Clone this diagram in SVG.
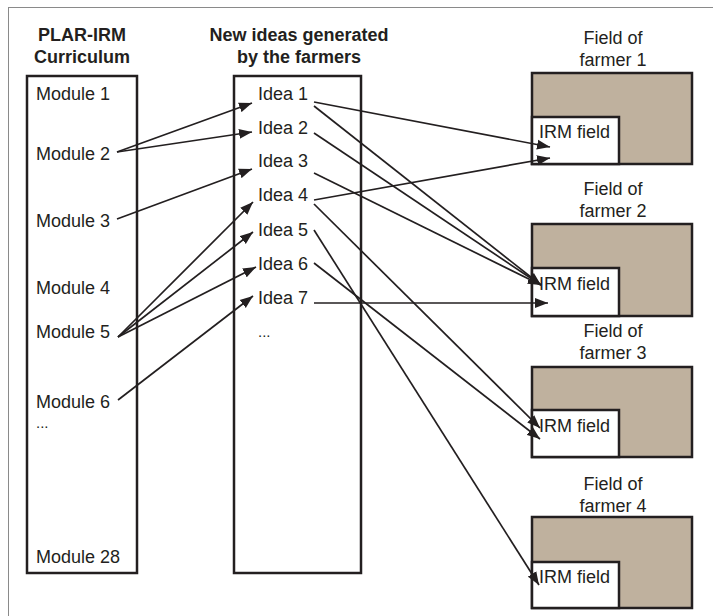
<svg xmlns="http://www.w3.org/2000/svg" width="713" height="616" viewBox="0 0 713 616">
<style>
text{font-family:"Liberation Sans",Arial,sans-serif;font-size:18px;fill:#231f20}
.h{font-weight:bold;text-anchor:middle}
.c{text-anchor:middle}
.dots{font-size:15px}
.box{fill:#fff;stroke:#231f20;stroke-width:2.5}
.field{fill:#bfb19e;stroke:#231f20;stroke-width:2.5}
.irm{fill:#fff;stroke:#231f20;stroke-width:2.5}
.con line{stroke:#231f20;stroke-width:1.7;marker-end:url(#ah)}
</style>
<defs>
<marker id="ah" markerUnits="userSpaceOnUse" markerWidth="14" markerHeight="11" refX="13" refY="5" orient="auto" viewBox="0 0 14 10">
<path d="M0,0 L13,5 L0,10 z" fill="#231f20"/>
</marker>
</defs>
<rect x="8.5" y="7.5" width="720" height="620" fill="#fff" stroke="#8a8a8a" stroke-width="1"/>

<g id="curriculum">
<text class="h" x="82" y="41">PLAR-IRM</text>
<text class="h" x="82" y="63">Curriculum</text>
<rect class="box" x="27" y="76" width="110" height="497"/>
<text x="36" y="100">Module 1</text>
<text x="36" y="160">Module 2</text>
<text x="36" y="227">Module 3</text>
<text x="36" y="294">Module 4</text>
<text x="36" y="338">Module 5</text>
<text x="36" y="408">Module 6</text>
<text class="dots" x="36" y="428">...</text>
<text x="36" y="563">Module 28</text>
</g>

<g id="ideas">
<text class="h" x="299" y="41">New ideas generated</text>
<text class="h" x="299" y="63">by the farmers</text>
<rect class="box" x="234" y="76" width="127" height="497"/>
<text x="258" y="100">Idea 1</text>
<text x="258" y="134">Idea 2</text>
<text x="258" y="167">Idea 3</text>
<text x="258" y="201">Idea 4</text>
<text x="258" y="236">Idea 5</text>
<text x="258" y="270">Idea 6</text>
<text x="258" y="304">Idea 7</text>
<text class="dots" x="258" y="337">...</text>
</g>

<g id="farmer1">
<text class="c" x="613" y="44">Field of</text>
<text class="c" x="613" y="66">farmer 1</text>
<rect class="field" x="532" y="73" width="160" height="91"/>
<rect class="irm" x="532" y="117" width="87" height="47"/>
<text x="539" y="138">IRM field</text>
</g>

<g id="farmer2">
<text class="c" x="613" y="195">Field of</text>
<text class="c" x="613" y="217">farmer 2</text>
<rect class="field" x="532" y="224" width="160" height="92"/>
<rect class="irm" x="532" y="268" width="87" height="48"/>
<text x="539" y="290">IRM field</text>
</g>

<g id="farmer3">
<text class="c" x="613" y="337">Field of</text>
<text class="c" x="613" y="359">farmer 3</text>
<rect class="field" x="532" y="367" width="160" height="90"/>
<rect class="irm" x="532" y="410" width="87" height="47"/>
<text x="539" y="432">IRM field</text>
</g>

<g id="farmer4">
<text class="c" x="613" y="490">Field of</text>
<text class="c" x="613" y="512">farmer 4</text>
<rect class="field" x="532" y="517" width="160" height="91"/>
<rect class="irm" x="532" y="562" width="87" height="46"/>
<text x="539" y="583">IRM field</text>
</g>

<g id="connectors" class="con">
<line x1="117" y1="152" x2="252" y2="103"/>
<line x1="117" y1="152" x2="252" y2="132"/>
<line x1="117" y1="219" x2="252" y2="169"/>
<line x1="118" y1="337" x2="253" y2="202"/>
<line x1="118" y1="337" x2="253" y2="232"/>
<line x1="118" y1="337" x2="256" y2="267"/>
<line x1="118" y1="400" x2="253" y2="296"/>

<line x1="314" y1="102" x2="550" y2="147"/>
<line x1="314" y1="106" x2="541" y2="285"/>
<line x1="314" y1="133" x2="541" y2="285"/>
<line x1="314" y1="173" x2="541" y2="285"/>
<line x1="314" y1="200" x2="550" y2="158"/>
<line x1="314" y1="204" x2="540" y2="428"/>
<line x1="314" y1="230" x2="539" y2="585"/>
<line x1="314" y1="263" x2="540" y2="439"/>
<line x1="314" y1="303" x2="548" y2="303"/>
</g>
</svg>
